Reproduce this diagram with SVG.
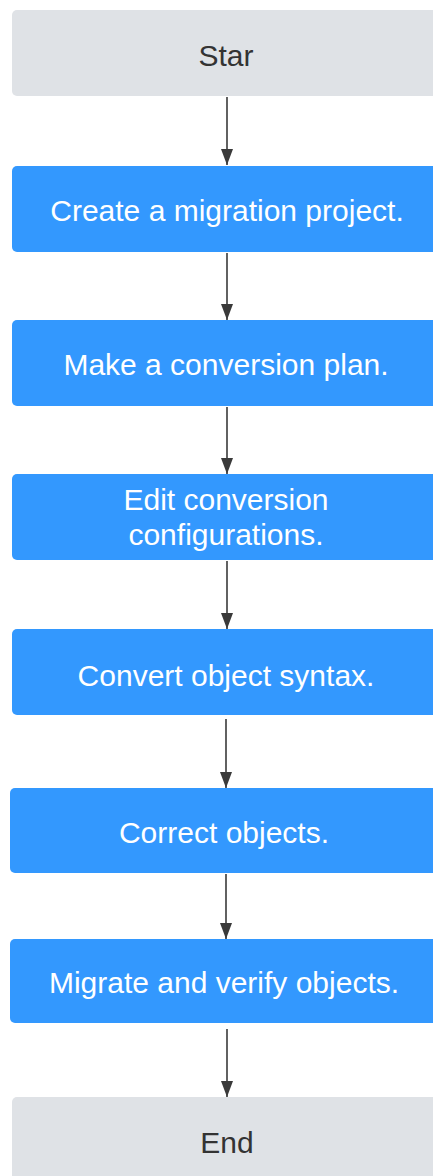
<svg xmlns="http://www.w3.org/2000/svg" width="433" height="1176" viewBox="0 0 433 1176">
<style>
.gray{fill:#dfe2e6;}
.blue{fill:#3398fe;}
.t{font-family:"Liberation Sans",Arial,sans-serif;font-size:30px;text-anchor:middle;}
.dk{fill:#333333;}
.wt{fill:#ffffff;}
.c{stroke:#3a3a3a;stroke-width:1.6;fill:none;marker-end:url(#ah);}
</style>
<defs>
<marker id="ah" markerWidth="16" markerHeight="12" refX="16" refY="6" orient="auto" markerUnits="userSpaceOnUse" viewBox="0 0 16 12">
<path d="M0,0 L16,6 L0,12 Z" fill="#3a3a3a"/>
</marker>
</defs>
<rect width="433" height="1176" fill="#ffffff"/>
<g id="connectors">
<line class="c" x1="227" y1="97" x2="227" y2="165"/>
<line class="c" x1="227" y1="253" x2="227" y2="320"/>
<line class="c" x1="227" y1="407" x2="227" y2="474"/>
<line class="c" x1="227" y1="561" x2="227" y2="629"/>
<line class="c" x1="226" y1="719" x2="226" y2="788"/>
<line class="c" x1="226" y1="874" x2="226" y2="939"/>
<line class="c" x1="227" y1="1029" x2="227" y2="1097"/>
</g>
<g id="start">
<rect class="gray" x="12" y="10" width="434" height="86" rx="5"/>
<text class="t dk" x="226" y="66">Star</text>
</g>
<g id="create">
<rect class="blue" x="12" y="166" width="434" height="86" rx="5"/>
<text class="t wt" x="227" y="221">Create a migration project.</text>
</g>
<g id="plan">
<rect class="blue" x="12" y="320" width="434" height="86" rx="5"/>
<text class="t wt" x="226" y="375">Make a conversion plan.</text>
</g>
<g id="edit">
<rect class="blue" x="12" y="474" width="434" height="86" rx="5"/>
<text class="t wt" x="226" y="510">Edit conversion</text>
<text class="t wt" x="226" y="545">configurations.</text>
</g>
<g id="convert">
<rect class="blue" x="12" y="629" width="434" height="86" rx="5"/>
<text class="t wt" x="226" y="686">Convert object syntax.</text>
</g>
<g id="correct">
<rect class="blue" x="10" y="788" width="436" height="85" rx="5"/>
<text class="t wt" x="224" y="843">Correct objects.</text>
</g>
<g id="migrate">
<rect class="blue" x="10" y="939" width="436" height="84" rx="5"/>
<text class="t wt" x="224" y="993">Migrate and verify objects.</text>
</g>
<g id="end">
<rect class="gray" x="12" y="1097" width="434" height="100" rx="5"/>
<text class="t dk" x="227" y="1153">End</text>
</g>
</svg>
